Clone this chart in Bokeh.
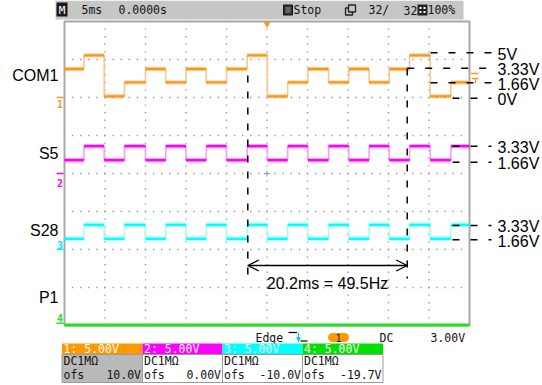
from bokeh.plotting import figure
from bokeh.models import Range1d, Arrow, OpenHead
from bokeh.core.properties import value
from bokeh.embed import file_html
from bokeh.resources import INLINE

# ---------------- data ----------------
# time of each level change in ms (screen spans -25 .. 25 ms, 5 ms/div)
t_edges = [-25.0, -22.6, -20.1, -17.6, -15.0, -12.5, -10.0, -7.5, -5.0, -2.45,
           0.05, 2.55, 5.05, 7.6, 10.1, 12.6, 15.1, 17.6, 20.15, 22.7, 25.0]
# level held after each change, volts
com1_v = [3.75, 5.55, 0.15, 1.98, 3.75, 1.98, 3.75, 1.98, 3.75, 5.55,
          0.15, 1.98, 3.75, 1.98, 3.75, 1.98, 3.75, 5.55, 0.15, 1.98]
s5_v = [1.75, 3.6, 1.75, 3.6, 1.75, 3.6, 1.75, 3.6, 1.75, 3.6,
        1.75, 3.6, 1.75, 3.6, 1.75, 3.6, 1.75, 3.6, 1.75, 3.6]
s28_v = [1.4, 3.25, 1.4, 3.25, 1.4, 3.25, 1.4, 3.25, 1.4, 3.25,
         1.4, 3.25, 1.4, 3.25, 1.4, 3.25, 1.4, 3.25, 1.4, 3.25]
p1_t = [-25.0, 25.0]
p1_v = [-0.25, -0.25]

channel_names = ["COM1", "S5", "S28", "P1"]
channel_offsets = [10.0, 0.0, -10.0, -19.7]          # V (ofs)
channel_colors = ["#F7981D", "#FF00FF", "#00FFFF", "#22E022"]
channel_edge_colors = ["#FAC88E", "#FF9CFF", "#A0FFFF", "#22E022"]
header_colors = ["#FF9900", "#FF00FF", "#00FFFF", "#00E000"]
header_texts = ["1: 5.00V", "2: 5.00V", "3: 5.00V", "4: 5.00V"]
coupling_texts = ["DC1M\u03a9", "DC1M\u03a9", "DC1M\u03a9", "DC1M\u03a9"]
ofs_texts = ["10.0V", "0.00V", "-10.0V", "-19.7V"]

# level marks on the right (volts, per channel)
com1_marks = [5.88, 3.86, 1.93, -0.09]
com1_mark_labels = ["5V", "3.33V", "1.66V", "0V"]
s5_marks = [3.59, 1.49]
s28_marks = [3.16, 1.28]
sig_mark_labels = ["3.33V", "1.66V"]

cursor_t = [-2.37, 17.31]                           # ms
measure_text = "20.2ms = 49.5Hz"

# ---------------- layout helpers (page px -> data) ----------------
def X(px):
    return (px - 266.5) / 40.5 * 5.0

def Y(py):
    return (173.0 - py) / 38.0 * 5.0

W, H = 542, 385
p = figure(width=W, height=H, output_backend="svg", toolbar_location=None,
           x_range=Range1d(X(0), X(W)), y_range=Range1d(Y(H), Y(0)),
           x_axis_location=None, y_axis_location=None, min_border=0,
           background_fill_color="white", border_fill_color="white")
p.outline_line_color = None
p.grid.visible = False

MONO = value("DejaVu Sans Mono")
SANS = value("Liberation Sans")

# ---------------- screen grid (dotted) ----------------
gx, gy = [], []
for i in range(1, 10):
    for k in range(0, 41):
        gx.append(-25 + 5 * i)
        gy.append(20 - k * 1.0)
for j in range(1, 8):
    for k in range(0, 51):
        gx.append(-25 + k * 1.0)
        gy.append(20 - 5 * j)
p.scatter(gx, gy, marker="square", size=1.4, color="#9a9a9a", line_width=0)
# center cross
p.segment(x0=[X(263.5), 0], y0=[0, Y(170)], x1=[X(269.5), 0], y1=[0, Y(176)],
          line_color="#9a9a9a", line_width=1)
# border
p.quad(left=[-25], right=[25], top=[20], bottom=[-20], fill_color=None,
       line_color="#a8a8a8", line_width=2)

# ---------------- traces ----------------
def trace(levels, off, col, edge_col):
    n = len(levels)
    x0 = t_edges[:n]
    x1 = t_edges[1:n + 1]
    ys = [v + off for v in levels]
    vx = t_edges[1:n]
    vy0 = ys[:-1]
    vy1 = ys[1:]
    p.segment(x0=vx, y0=vy0, x1=vx, y1=vy1, line_color=edge_col, line_width=1.6)
    p.segment(x0=x0, y0=ys, x1=x1, y1=ys, line_color=col, line_width=4.5, line_alpha=0.35)
    p.segment(x0=x0, y0=ys, x1=x1, y1=ys, line_color=col, line_width=2.3)

trace(com1_v, channel_offsets[0], channel_colors[0], channel_edge_colors[0])
trace(s5_v, channel_offsets[1], channel_colors[1], channel_edge_colors[1])
trace(s28_v, channel_offsets[2], channel_colors[2], channel_edge_colors[2])
p.line([t for t in p1_t], [v + channel_offsets[3] for v in p1_v],
       line_color=channel_colors[3], line_width=3)

# ---------------- channel ground markers ----------------
marker_dy = [6, 9, -5, -5]
for i in range(4):
    g = channel_offsets[i]
    p.segment(x0=[X(56)], y0=[g], x1=[X(63)], y1=[g], line_color=channel_colors[i], line_width=1.5)
    p.text(x=[X(59.5)], y=[g], text=[str(i + 1)], y_offset=marker_dy[i],
           text_font=MONO, text_font_size=value("10px"), text_font_style="bold",
           text_color=channel_colors[i] if i != 2 else "#00E5F0",
           text_align="center", text_baseline="middle")

# trigger position and level markers
p.scatter([0], [Y(23.5)], marker="triangle", angle=3.14159, size=7,
          color="#F7981D", line_width=0)
p.segment(x0=[X(470.5), X(475)], y0=[Y(73), Y(78)], x1=[X(478), X(475)], y1=[Y(73), Y(83)],
          line_color="#F7981D", line_width=1.3)
p.segment(x0=[X(471.5)], y0=[Y(78)], x1=[X(478)], y1=[Y(78)], line_color="#F7981D", line_width=1.3)

# ---------------- left labels ----------------
label_y = [75, 153, 230, 297]
p.text(x=[X(58)] * 4, y=[Y(v) for v in label_y], text=channel_names,
       text_font=SANS, text_font_size=value("16px"), text_color="black",
       text_align="right", text_baseline="middle")

# ---------------- right level marks ----------------
mx_start = [X(430), X(406.7), X(430), X(452)]
yy = [m + channel_offsets[0] for m in com1_marks]
p.segment(x0=mx_start, y0=yy, x1=[X(491)] * 4, y1=yy, line_color="black",
          line_width=1.5, line_dash="7 11")
p.text(x=[X(497)] * 4, y=yy, text=com1_mark_labels, y_offset=1.5,
       text_font=SANS, text_font_size=value("16px"), text_color="black",
       text_align="left", text_baseline="middle")
for marks, off in ((s5_marks, channel_offsets[1]), (s28_marks, channel_offsets[2])):
    yy = [m + off for m in marks]
    p.segment(x0=[X(452)] * 2, y0=yy, x1=[X(491)] * 2, y1=yy, line_color="black",
              line_width=1.5, line_dash="7 11")
    p.text(x=[X(497)] * 2, y=yy, text=sig_mark_labels, y_offset=1.5,
           text_font=SANS, text_font_size=value("16px"), text_color="black",
           text_align="left", text_baseline="middle")

# ---------------- cursors & measurement ----------------
p.segment(x0=cursor_t, y0=[Y(75), Y(68)], x1=cursor_t, y1=[Y(278), Y(278)],
          line_color="black", line_width=1.5, line_dash="7 9")
p.add_layout(Arrow(start=OpenHead(size=11, line_width=1.3), end=OpenHead(size=11, line_width=1.3),
                   x_start=cursor_t[0], y_start=Y(265), x_end=cursor_t[1], y_end=Y(265),
                   line_width=1.3, line_color="black"))
p.text(x=[(cursor_t[0] + cursor_t[1]) / 2], y=[Y(283)], text=[measure_text],
       text_font=SANS, text_font_size=value("16px"), text_color="black",
       text_align="center", text_baseline="middle")

# ---------------- top status bar ----------------
p.quad(left=[X(55)], right=[X(463)], top=[Y(0)], bottom=[Y(19)],
       fill_color="#c6c6c6", line_color=None)
p.quad(left=[X(56)], right=[X(67)], top=[Y(2)], bottom=[Y(16)],
       fill_color="#1a1a1a", line_color=None)
p.text(x=[X(61.5)], y=[Y(9.5)], text=["M"], text_font=MONO, text_font_size=value("11px"),
       text_color="white", text_align="center", text_baseline="middle")
p.text(x=[X(81), X(118), X(293), X(368), X(403), X(427)], y=[Y(9.5)] * 6,
       text=["5ms", "0.0000s", "Stop", "32/", "32", "100%"],
       text_font=MONO, text_font_size=value("11.5px"), text_color="#111111",
       text_align="left", text_baseline="middle")
p.quad(left=[X(283)], right=[X(292)], top=[Y(4.5)], bottom=[Y(14.5)],
       fill_color="#333333", line_color="#111111", line_width=1)
p.quad(left=[X(285)], right=[X(290)], top=[Y(6.5)], bottom=[Y(12.5)],
       fill_color="#666666", line_color=None)
p.quad(left=[X(345), X(348)], right=[X(352), X(355)], top=[Y(7.5), Y(4.5)],
       bottom=[Y(14.5), Y(11.5)], fill_color="#c6c6c6", line_color="#222222", line_width=1.3)
p.quad(left=[X(417)], right=[X(427)], top=[Y(4)], bottom=[Y(15)],
       fill_color="#222222", line_color=None)
p.scatter([X(420), X(424), X(420), X(424)], [Y(7.5), Y(7.5), Y(11.5), Y(11.5)], marker="square",
          size=2, color="white", line_width=0)

# ---------------- trigger info row ----------------
ry = 337
p.text(x=[X(255), X(379), X(430)], y=[Y(ry)] * 3, text=["Edge", "DC", "3.00V"],
       text_font=MONO, text_font_size=value("11.5px"), text_color="#111111",
       text_align="left", text_baseline="middle")
p.line([X(288), X(296.5)], [Y(332), Y(332)], line_color="black", line_width=1.2)
p.line([X(300), X(307)], [Y(340.5), Y(340.5)], line_color="black", line_width=1.2)
p.segment(x0=[X(298)], y0=[Y(332)], x1=[X(298)], y1=[Y(338)], line_color="#00C8E0", line_width=1.5)
p.scatter([X(298)], [Y(338.5)], marker="triangle", angle=3.14159, size=5, color="#00C8E0", line_width=0)
p.rect(x=[X(338)], y=[Y(ry)], width=12, height=9, width_units="screen", height_units="screen",
       fill_color="#FF9900", line_color=None)
p.scatter([X(332), X(344)], [Y(ry), Y(ry)], marker="circle", size=9, color="#FF9900", line_width=0)
p.text(x=[X(338)], y=[Y(ry)], text=["1"], text_font=MONO, text_font_size=value("10px"),
       text_color="#222222", text_align="center", text_baseline="middle")

# ---------------- channel boxes ----------------
col_x = [61.5, 142, 222, 302, 382.5]
h_top, h_bot, r2_bot, r3_bot = 343, 354, 366, 382
for i in range(4):
    l, r = col_x[i], col_x[i + 1]
    p.quad(left=[X(l)], right=[X(r)], top=[Y(h_top)], bottom=[Y(h_bot)],
           fill_color=header_colors[i], line_color=None)
    p.quad(left=[X(l)], right=[X(r)], top=[Y(h_bot)], bottom=[Y(r3_bot)],
           fill_color="#b9b9b9" if i == 0 else "white", line_color="#9a9a9a", line_width=1)
    p.text(x=[X(l + 1.5)], y=[Y((h_top + h_bot) / 2)], text=[header_texts[i]],
           text_font=MONO, text_font_size=value("11.5px"), text_color="white",
           text_align="left", text_baseline="middle")
    p.text(x=[X(l + 1.5)], y=[Y((h_bot + r2_bot) / 2 + 0.5)], text=[coupling_texts[i]],
           text_font=MONO, text_font_size=value("11.5px"), text_color="#111111",
           text_align="left", text_baseline="middle")
    p.text(x=[X(l + 1.5)], y=[Y((r2_bot + r3_bot) / 2)], text=["ofs"],
           text_font=MONO, text_font_size=value("11.5px"), text_color="#111111",
           text_align="left", text_baseline="middle")
    p.text(x=[X(r - 1.5)], y=[Y((r2_bot + r3_bot) / 2)], text=[ofs_texts[i]],
           text_font=MONO, text_font_size=value("11.5px"), text_color="#111111",
           text_align="right", text_baseline="middle")

open("out.html", "w").write(file_html(p, INLINE))
